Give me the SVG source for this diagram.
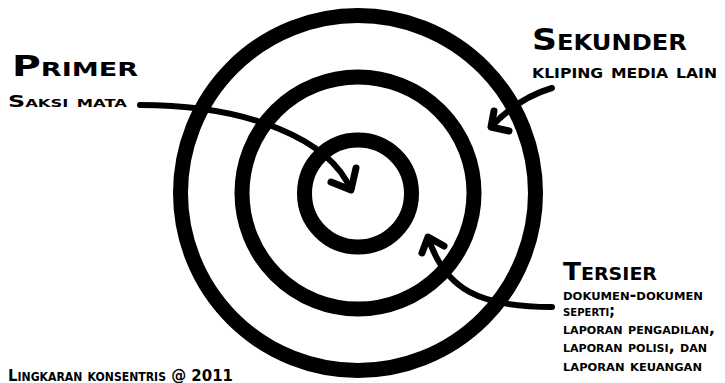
<svg xmlns="http://www.w3.org/2000/svg" width="725" height="383" viewBox="0 0 725 383">
<style>
.ring{fill:none;stroke:#000;stroke-width:15}
.arr{fill:none;stroke:#000;stroke-width:6;stroke-linecap:round;stroke-linejoin:round}
.head{fill:none;stroke:#000;stroke-width:7;stroke-linecap:round;stroke-linejoin:round}
text{font-family:"DejaVu Sans","Liberation Sans",sans-serif;font-weight:bold;font-variant:small-caps;fill:#000}
</style>
<rect width="725" height="383" fill="#fff"/>
<g id="ring-outer"><circle class="ring" cx="358" cy="193" r="177.5"/></g>
<g id="ring-middle"><circle class="ring" cx="358" cy="193" r="116"/></g>
<g id="ring-inner"><circle class="ring" cx="358" cy="193.5" r="53.5"/></g>
<g id="connectors">
<path class="arr" d="M140,105 C250,105 330,140 351,190"/>
<path class="head" d="M356,168 L351,190 L331,182"/>
<path class="arr" d="M552,88 Q518,98 491,127"/>
<path class="head" d="M494,111 L491,127 L509,131"/>
<path class="arr" d="M552,307 C480,307 445,290 428,237"/>
<path class="head" d="M422,253 L428,237 L444,246"/>
</g>
<g id="primer">
<text x="12" y="76" font-size="29" textLength="126" lengthAdjust="spacingAndGlyphs">Primer</text>
<text x="8" y="106.5" font-size="16" textLength="119" lengthAdjust="spacingAndGlyphs">Saksi mata</text>
</g>
<g id="sekunder">
<text x="532" y="50" font-size="30" textLength="155" lengthAdjust="spacingAndGlyphs">Sekunder</text>
<text x="532" y="77.5" font-size="20" textLength="185" lengthAdjust="spacingAndGlyphs">kliping media lain</text>
</g>
<g id="tersier">
<text x="563" y="280" font-size="25" textLength="94" lengthAdjust="spacingAndGlyphs">Tersier</text>
<text x="563" y="299.5" font-size="15.5" textLength="140" lengthAdjust="spacingAndGlyphs">dokumen-dokumen</text>
<text x="563" y="316" font-size="15.5" textLength="52" lengthAdjust="spacingAndGlyphs">seperti;</text>
<text x="563" y="334" font-size="15.5" textLength="152" lengthAdjust="spacingAndGlyphs">laporan pengadilan,</text>
<text x="563" y="352" font-size="15.5" textLength="144" lengthAdjust="spacingAndGlyphs">laporan polisi, dan</text>
<text x="563" y="370.5" font-size="15.5" textLength="139" lengthAdjust="spacingAndGlyphs">laporan keuangan</text>
</g>
<g id="caption">
<text x="8" y="380.5" font-size="16.5" textLength="225" lengthAdjust="spacingAndGlyphs">Lingkaran konsentris @ 2011</text>
</g>
</svg>
